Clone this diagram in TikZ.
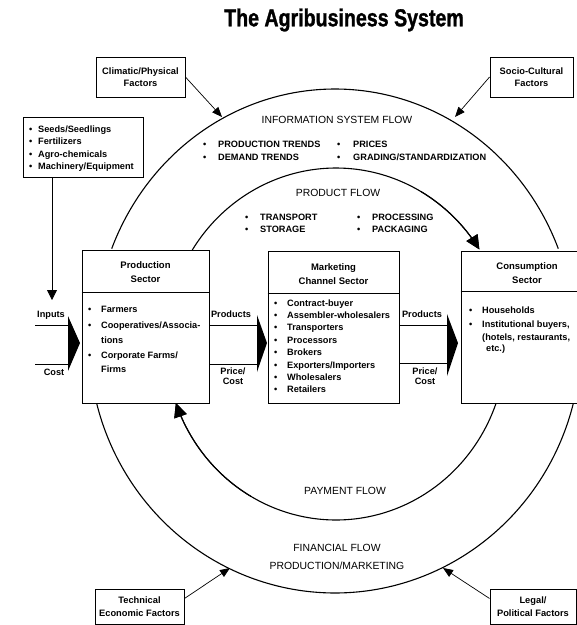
\documentclass[tikz,border=0pt]{standalone}
\usepackage{fontspec}
\setmainfont{Liberation Sans}
\newfontfamily\titlefont[FakeStretch=0.8,FakeBold=1.2]{Liberation Sans}
\usetikzlibrary{arrows.meta}
\newcommand\bul[1][13pt]{\makebox[#1][l]{\textbullet}}
\begin{document}
\begin{tikzpicture}[x=1pt,y=-1pt,
  box/.style={draw, line width=0.9pt, inner sep=0pt},
  ring/.style={line width=1.1pt},
  lbl/.style={font=\fontsize{10.4}{12}\selectfont, inner sep=0pt},
  itm/.style={font=\bfseries\fontsize{9.2}{11}\selectfont, inner sep=0pt, anchor=base west},
  hd/.style={font=\bfseries\fontsize{9.5}{14}\selectfont, align=center, inner sep=0pt},
  fac/.style={draw, line width=0.9pt, font=\bfseries\fontsize{9.3}{12.5}\selectfont, align=center, inner sep=0pt},
  ftip/.style={-{Triangle[length=10pt,width=8pt]}, line width=0.7pt},
  btip/.style={-{Triangle[length=14pt,width=13pt]}},
  chev/.style={fill=black}
]
\useasboundingbox (0,0) rectangle (577,625);

% title
\node[font=\titlefont\bfseries\fontsize{24.5}{28}\selectfont, inner sep=0pt] (title) at (344,20) {The Agribusiness System};

% outer ring (information / financial flow)
\draw[ring] plot[domain=201.5:338.5, samples=90, smooth] ({335+240*cos(\x)},{341+252*sin(\x)});
\draw[ring] plot[domain=14:166, samples=90, smooth] ({335+246*cos(\x)},{341+252*sin(\x)});

% inner ring (product / payment flow)
\draw[ring, btip] plot[domain=212.3:327.5, samples=90, smooth] ({336+170*cos(\x)},{344+176*sin(\x)});
\draw[ring, btip] plot[domain=19.6:160.4, samples=90, smooth] ({336+170*cos(\x)},{344+176*sin(\x)});

% sector boxes
\node[box, fill=white, minimum width=127pt, minimum height=153pt] (prod) at (145.5,326.5) {};
\node[box, fill=white, minimum width=131pt, minimum height=152pt] (mkt) at (333.5,327) {};
\node[box, fill=white, minimum width=119pt, minimum height=152pt] (cons) at (520.5,327) {};
\draw[line width=0.9pt] ([yshift=-43pt]prod.north west) -- ([yshift=-43pt]prod.north east);
\draw[line width=0.9pt] ([yshift=-43pt]mkt.north west) -- ([yshift=-43pt]mkt.north east);
\draw[line width=0.9pt] ([yshift=-41pt]cons.north west) -- ([yshift=-41pt]cons.north east);

% redraw arrow ends of the inner ring over the box fill
\draw[ring, btip] plot[domain=300:327.5, samples=30, smooth] ({336+170*cos(\x)},{344+176*sin(\x)});
\draw[ring, btip] plot[domain=120:160.4, samples=30, smooth] ({336+170*cos(\x)},{344+176*sin(\x)});

\node[hd] (prodT) at (145.5,272) {Production\\Sector};
\node[hd] (mktT) at (333.5,274.5) {Marketing\\Channel Sector};
\node[hd] (consT) at (527,273.5) {Consumption\\Sector};

% production items
\node[itm] (p1) at (88,312) {\bul Farmers};
\node[itm] (p2) at (88,328) {\bul Cooperatives/Associa-};
\node[itm] (p3) at (101,343) {tions};
\node[itm] (p4) at (88,358) {\bul Corporate Farms/};
\node[itm] (p5) at (101,372) {Firms};

% marketing items
\node[itm] (m1) at (274,306.0) {\bul Contract-buyer};
\node[itm] (m2) at (274,318.4) {\bul Assembler-wholesalers};
\node[itm] (m3) at (274,330.8) {\bul Transporters};
\node[itm] (m4) at (274,343.2) {\bul Processors};
\node[itm] (m5) at (274,355.6) {\bul Brokers};
\node[itm] (m6) at (274,368.0) {\bul Exporters/Importers};
\node[itm] (m7) at (274,380.4) {\bul Wholesalers};
\node[itm] (m8) at (274,392.8) {\bul Retailers};

% consumption items
\node[itm] (c1) at (469,313) {\bul Households};
\node[itm] (c2) at (469,327) {\bul Institutional buyers,};
\node[itm] (c3) at (482,340) {(hotels, restaurants,};
\node[itm] (c4) at (486,351) {etc.)};

% inputs box
\node[box, minimum width=120pt, minimum height=60pt] (inp) at (83,147) {};
\node[itm] (i1) at (29,132) {\bul[9pt]Seeds/Seedlings};
\node[itm] (i2) at (29,144.5) {\bul[9pt]Fertilizers};
\node[itm] (i3) at (29,157) {\bul[9pt]Agro-chemicals};
\node[itm] (i4) at (29,169.5) {\bul[9pt]Machinery/Equipment};
\coordinate (inTip) at (52,300);
\draw[line width=0.8pt, -{Triangle[length=10pt,width=10pt]}] (inp.south -| inTip) -- (inTip);

% factor boxes
\node[fac, minimum width=89pt, minimum height=40pt] (clim) at (140.5,77) {Climatic/Physical\\Factors};
\node[fac, minimum width=83pt, minimum height=40pt] (soc) at (531.5,77) {Socio-Cultural\\Factors};
\node[fac, minimum width=89pt, minimum height=35pt] (tech) at (139.5,606.5) {Technical\\Economic Factors};
\node[fac, minimum width=86pt, minimum height=35pt] (legal) at (533,606.5) {Legal/\\Political Factors};
\coordinate (climTip) at (222,117);
\coordinate (socTip) at (455,117);
\coordinate (techTip) at (230,568);
\coordinate (legalTip) at (443,568);
\draw[ftip] (clim.east) -- (climTip);
\draw[ftip] (soc.west) -- (socTip);
\draw[ftip] ([yshift=8pt]tech.east) -- (techTip);
\draw[ftip] ([yshift=8pt]legal.west) -- (legalTip);

% flow labels
\node[lbl] (isf) at (337,120) {INFORMATION SYSTEM FLOW};
\node[itm] (f1) at (203,147) {\bul[15pt]PRODUCTION TRENDS};
\node[itm] (f2) at (203,160) {\bul[15pt]DEMAND TRENDS};
\node[itm] (f3) at (337,147) {\bul[16pt]PRICES};
\node[itm] (f4) at (337,160) {\bul[16pt]GRADING/STANDARDIZATION};
\node[lbl] (pf) at (338,193) {PRODUCT FLOW};
\node[itm] (g1) at (245,220) {\bul[15pt]TRANSPORT};
\node[itm] (g2) at (245,232) {\bul[15pt]STORAGE};
\node[itm] (g3) at (357,220) {\bul[15pt]PROCESSING};
\node[itm] (g4) at (357,232) {\bul[15pt]PACKAGING};
\node[lbl] (payf) at (345,491) {PAYMENT FLOW};
\node[lbl] (finf) at (337,548) {FINANCIAL FLOW};
\node[lbl] (pm) at (337,566) {PRODUCTION/MARKETING};

% chevron flows: inputs -> production
\node[itm, anchor=center] (inL) at (51,315) {Inputs};
\node[itm, anchor=center] (costL) at (54,372) {Cost};
\coordinate (ch1a) at (68,316); \coordinate (ch1b) at (80,343); \coordinate (ch1c) at (68,371);
\fill[chev] (ch1a) -- (ch1b) -- (ch1c) -- cycle;
\draw[line width=0.9pt] (35,325) -- (ch1a |- 0,325);
\draw[line width=0.9pt] (35,364) -- (ch1a |- 0,364);

% production -> marketing
\node[itm, anchor=center] (prL) at (231,314) {Products};
\node[itm, anchor=center, align=center, font=\bfseries\fontsize{9.2}{10.5}\selectfont] (pcL) at (233,376) {Price/\\Cost};
\coordinate (ch2a) at (257,315); \coordinate (ch2b) at (267,343); \coordinate (ch2c) at (257,372);
\fill[chev] (ch2a) -- (ch2b) -- (ch2c) -- cycle;
\draw[line width=0.9pt] (prod.east |- 0,325) -- (ch2a |- 0,325);
\draw[line width=0.9pt] (prod.east |- 0,364) -- (ch2a |- 0,364);

% marketing -> consumption
\node[itm, anchor=center] (prL2) at (422,314) {Products};
\node[itm, anchor=center, align=center, font=\bfseries\fontsize{9.2}{10.5}\selectfont] (pcL2) at (425,376) {Price/\\Cost};
\coordinate (ch3a) at (447,314); \coordinate (ch3b) at (458,343); \coordinate (ch3c) at (447,376);
\fill[chev] (ch3a) -- (ch3b) -- (ch3c) -- cycle;
\draw[line width=0.9pt] (mkt.east |- 0,325) -- (ch3a |- 0,325);
\draw[line width=0.9pt] (mkt.east |- 0,363) -- (ch3a |- 0,363);
\end{tikzpicture}
\end{document}
